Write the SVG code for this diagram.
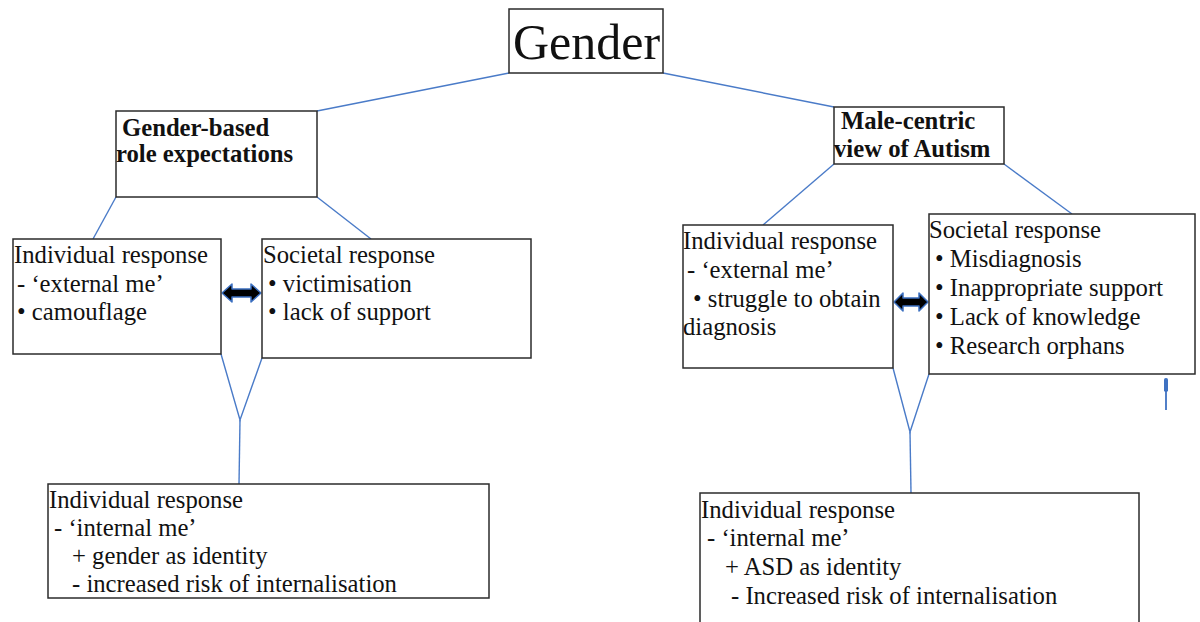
<svg xmlns="http://www.w3.org/2000/svg" width="1200" height="622" viewBox="0 0 1200 622">
<style>
.box{fill:#fff;stroke:#2b2b2b;stroke-width:1.5}
.t{font-family:"Liberation Serif","Times New Roman",serif;font-size:24.7px;fill:#111}
.b{font-family:"Liberation Serif","Times New Roman",serif;font-size:24.7px;font-weight:bold;fill:#111}
.c{stroke:#4a7bc8;stroke-width:1.4;fill:none}
.arr{fill:#000;stroke:#3b6fc0;stroke-width:1.5;stroke-linejoin:round}
</style>
<rect width="1200" height="622" fill="#fff"/>
<g id="connectors">
<line class="c" x1="509" y1="73" x2="317" y2="111"/>
<line class="c" x1="663" y1="73" x2="834" y2="107"/>
<line class="c" x1="116" y1="197" x2="93" y2="239"/>
<line class="c" x1="317" y1="197" x2="371" y2="239"/>
<line class="c" x1="834" y1="164" x2="763" y2="225"/>
<line class="c" x1="1004" y1="164" x2="1072" y2="214"/>
<polyline class="c" points="221,354 240,420 262,358"/>
<line class="c" x1="240" y1="420" x2="239" y2="484"/>
<polyline class="c" points="893,368 910,432 929,374"/>
<line class="c" x1="910" y1="432" x2="911" y2="493"/>
<polygon class="arr" points="222,293 232,284 232,289 251,289 251,284 261,293 251,302 251,297 232,297 232,302"/>
<polygon class="arr" points="894,302 903,293 903,298 919,298 919,293 928,302 919,311 919,306 903,306 903,311"/>
<rect x="1164" y="378" width="4" height="14" rx="1.8" fill="#3f72c2"/>
<line x1="1166" y1="390" x2="1166" y2="410" stroke="#3f72c2" stroke-width="1.8"/>
</g>
<g id="gender">
<rect class="box" x="509" y="9" width="154" height="64"/>
<text class="t" x="513" y="59" style="font-size:50px">Gender</text>
</g>
<g id="gender-based">
<rect class="box" x="116" y="111" width="201" height="86"/>
<text class="b" x="122" y="136">Gender-based</text>
<text class="b" x="116" y="162">role expectations</text>
</g>
<g id="male-centric">
<rect class="box" x="834" y="107" width="170" height="57"/>
<text class="b" x="841" y="129">Male-centric</text>
<text class="b" x="834" y="157">view of Autism</text>
</g>
<g id="left-individual">
<rect class="box" x="13" y="239" width="208" height="115"/>
<text class="t" x="14" y="263">Individual response</text>
<text class="t" x="17" y="292">- ‘external me’</text>
<text class="t" x="17" y="320">• camouflage</text>
</g>
<g id="left-societal">
<rect class="box" x="262" y="239" width="269" height="119"/>
<text class="t" x="263" y="263">Societal response</text>
<text class="t" x="268" y="292">• victimisation</text>
<text class="t" x="268" y="320">• lack of support</text>
</g>
<g id="left-internal">
<rect class="box" x="48" y="484" width="441" height="114"/>
<text class="t" x="49" y="508">Individual response</text>
<text class="t" x="54" y="536">- ‘internal me’</text>
<text class="t" x="72" y="564">+ gender as identity</text>
<text class="t" x="72" y="592">- increased risk of internalisation</text>
</g>
<g id="right-individual">
<rect class="box" x="683" y="225" width="210" height="143"/>
<text class="t" x="683" y="249">Individual response</text>
<text class="t" x="687" y="278">- ‘external me’</text>
<text class="t" x="693" y="307">• struggle to obtain</text>
<text class="t" x="683" y="335">diagnosis</text>
</g>
<g id="right-societal">
<rect class="box" x="929" y="214" width="266" height="160"/>
<text class="t" x="929" y="238">Societal response</text>
<text class="t" x="935" y="267">• Misdiagnosis</text>
<text class="t" x="935" y="296">• Inappropriate support</text>
<text class="t" x="935" y="325">• Lack of knowledge</text>
<text class="t" x="935" y="354">• Research orphans</text>
</g>
<g id="right-internal">
<rect class="box" x="700" y="493" width="439" height="140"/>
<text class="t" x="701" y="518">Individual response</text>
<text class="t" x="707" y="546">- ‘internal me’</text>
<text class="t" x="725" y="575">+ ASD as identity</text>
<text class="t" x="731" y="604">- Increased risk of internalisation</text>
</g>
</svg>
